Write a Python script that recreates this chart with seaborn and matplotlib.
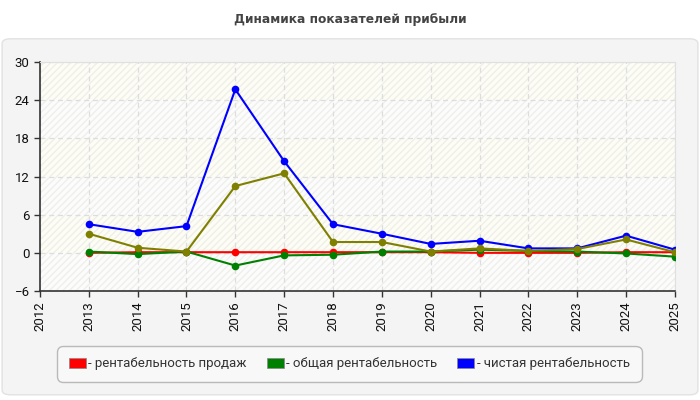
import pandas as pd
import seaborn as sns
import matplotlib.pyplot as plt
from matplotlib.patches import FancyBboxPatch, Patch

years = list(range(2013, 2026))
sales_margin = [0.0, 0.1, 0.1, 0.1, 0.1, 0.1, 0.1, 0.1, 0.0, 0.0, 0.0, 0.1, 0.1]
total_margin = [0.2, -0.2, 0.2, -2.0, -0.4, -0.3, 0.2, 0.2, 0.5, 0.3, 0.2, -0.1, -0.6]
net_margin = [4.5, 3.3, 4.2, 25.7, 14.4, 4.5, 3.0, 1.4, 1.9, 0.7, 0.7, 2.7, 0.5]
other_margin = [3.0, 0.8, 0.2, 10.5, 12.5, 1.7, 1.7, 0.2, 0.7, 0.3, 0.6, 2.1, 0.1]

names = ["рентабельность продаж", "общая рентабельность", "чистая рентабельность", "прочее"]
colors = ["#ff0000", "#008000", "#0000ff", "#808000"]

df = pd.DataFrame({
    "year": years * 4,
    "value": sales_margin + total_margin + net_margin + other_margin,
    "series": sum([[n] * len(years) for n in names], []),
})

sns.set_style("white")
plt.rcParams["font.family"] = ["Roboto", "DejaVu Sans"]

fig = plt.figure(figsize=(7, 4), dpi=100)
fig.patch.set_facecolor("white")

# outer rounded panel
panel = FancyBboxPatch((0.003, 0.013), 0.994, 0.89, boxstyle="round,pad=0,rounding_size=0.012",
                       transform=fig.transFigure, facecolor="#f4f4f4", edgecolor="#e2e2e2",
                       linewidth=1, zorder=-10)
fig.patches.append(panel)

fig.text(0.5, 0.95, "Динамика показателей прибыли", ha="center", va="center",
         fontsize=8.8, fontweight="bold", color="#444444", family="DejaVu Sans")

ax = fig.add_axes([0.0571, 0.2725, 0.907, 0.5725])
ax.set_facecolor("#fdfdf6")

# hatched bands between gridlines
for i, lo in enumerate(range(-6, 30, 6)):
    ax.axhspan(lo, lo + 6, facecolor="#fdfdf6" if i % 2 else "#fcfcfc",
               edgecolor="#efefea", hatch="/////", linewidth=0, zorder=0)

sns.lineplot(data=df, x="year", y="value", hue="series", palette=colors,
             marker="o", markersize=5.5, markeredgewidth=0, linewidth=1.5,
             legend=False, ax=ax, zorder=3)

ax.set_xlim(2012, 2025)
ax.set_ylim(-6, 30)
ax.set_xticks(range(2012, 2026))
ax.set_yticks(range(-6, 31, 6))
ax.set_xticklabels([str(y) for y in range(2012, 2026)], rotation=90)
ax.tick_params(axis="both", labelsize=9.5, colors="#333333", length=4, width=1,
               direction="out", labelcolor="#111111")
ax.tick_params(axis="x", bottom=True)
ax.tick_params(axis="y", left=True)
ax.grid(True, color="#dddddd", linestyle=(0, (4, 3)), linewidth=0.9, zorder=1)
ax.set_axisbelow(True)
ax.set_xlabel("")
ax.set_ylabel("")
for s in ["top", "right"]:
    ax.spines[s].set_color("#e0e0e0")
for s in ["left", "bottom"]:
    ax.spines[s].set_color("#333333")
    ax.spines[s].set_linewidth(1.2)

handles = [Patch(facecolor=c, edgecolor="#888888", linewidth=0.5, label="- " + n)
           for c, n in zip(colors[:3], names[:3])]
leg = fig.legend(handles=handles, loc="center", bbox_to_anchor=(0.499, 0.09),
                 ncol=3, frameon=True, fontsize=9.5, handlelength=1.3, handleheight=0.7,
                 handletextpad=0.2, columnspacing=1.5, borderpad=0.9, borderaxespad=0,
                 fancybox=True)
leg.get_frame().set_facecolor("#fafafa")
leg.get_frame().set_edgecolor("#aaaaaa")
leg.get_frame().set_boxstyle("round,pad=0,rounding_size=0.5")
for t in leg.get_texts():
    t.set_color("#333333")

fig.savefig("out.png", dpi=100, facecolor=fig.get_facecolor())
